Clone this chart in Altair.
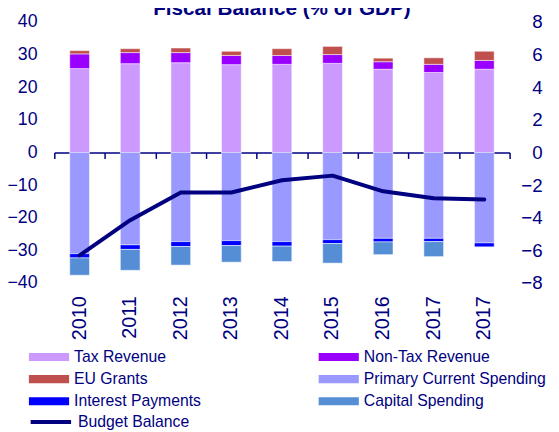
import altair as alt
import pandas as pd

years = ["2010", "2011", "2012", "2013", "2014", "2015", "2016", "2017", "2017"]
tax_revenue = [25.7, 27.2, 27.5, 26.9, 27.0, 27.3, 25.5, 24.5, 25.5]
non_tax_revenue = [4.5, 3.4, 3.1, 2.8, 2.7, 2.7, 2.3, 2.5, 2.7]
eu_grants = [1.0, 1.2, 1.4, 1.3, 2.1, 2.5, 1.1, 2.0, 2.9]
primary_current = [-31.0, -28.3, -27.3, -27.0, -27.3, -26.7, -26.3, -26.3, -27.7]
interest_payments = [-1.3, -1.4, -1.5, -1.5, -1.4, -1.2, -1.1, -1.0, -1.2]
capital_spending = [-5.3, -6.4, -5.7, -5.1, -4.7, -6.0, -3.9, -4.6, 0.0]
budget_balance = [-6.3, -4.15, -2.45, -2.45, -1.7, -1.42, -2.38, -2.8, -2.88]

series_names = ["Tax Revenue", "Non-Tax Revenue", "EU Grants",
                "Primary Current Spending", "Interest Payments", "Capital Spending"]
series_colors = ["#CC99FF", "#9900FF", "#C0504D", "#9999FF", "#0000FF", "#558ED5"]
series_values = [tax_revenue, non_tax_revenue, eu_grants,
                 primary_current, interest_payments, capital_spending]
# legend fills column by column: left column first, then right column
legend_order = ["Tax Revenue", "EU Grants", "Interest Payments",
                "Non-Tax Revenue", "Primary Current Spending", "Capital Spending"]
legend_colors = [series_colors[series_names.index(n)] for n in legend_order]

NAVY = "#000080"
FONT = "Liberation Sans"

rows = []
for i in range(len(years)):
    for k, (name, vals) in enumerate(zip(series_names, series_values)):
        rows.append({"idx": i, "series": name, "value": vals[i], "order": k})
bars_df = pd.DataFrame(rows)
line_df = pd.DataFrame({"idx": list(range(len(years))), "balance": budget_balance,
                        "series": ["Budget Balance"] * len(years)})

label_expr = "[" + ",".join("'%s'" % y for y in years) + "][datum.value]"
xscale = alt.Scale(paddingInner=0, paddingOuter=0)

bars = alt.Chart(bars_df).mark_bar(size=20, stroke="white", strokeOpacity=0.5, strokeWidth=1).encode(
    x=alt.X("idx:O", scale=xscale, axis=alt.Axis(
        orient="bottom", labelExpr=label_expr, labelAngle=270, labelFontSize=20,
        labelColor=NAVY, labelFont=FONT, labelPadding=13, ticks=False, domain=False,
        title=None, grid=False)),
    y=alt.Y("value:Q", stack="zero", scale=alt.Scale(domain=[-40, 40], nice=False),
            axis=alt.Axis(orient="left", values=list(range(-40, 41, 10)), labelFontSize=18,
                          labelColor=NAVY, labelFont=FONT, labelPadding=17.5, ticks=False,
                          domain=False, grid=False, title=None)),
    color=alt.Color("series:N", scale=alt.Scale(domain=legend_order, range=legend_colors),
                    legend=alt.Legend(
                        orient="none", legendX=-26, legendY=332, columns=2,
                        columnPadding=63, rowPadding=6.5, gridAlign="all",
                        symbolType="M-1,-0.2H1V0.2H-1Z", symbolSize=1681,
                        symbolStrokeWidth=0, symbolOpacity=1, clipHeight=16,
                        labelFontSize=16, labelColor=NAVY, labelFont=FONT, labelLimit=400,
                        labelOffset=5, title=None, padding=0)),
    order=alt.Order("order:Q"),
)

line = alt.Chart(line_df).mark_line(strokeWidth=4, strokeCap="round", strokeJoin="round").encode(
    x=alt.X("idx:O", scale=xscale, axis=alt.Axis(
        orient="bottom", offset=-132.5, labels=False, ticks=True, tickBand="extent",
        tickSize=6, tickColor=NAVY, tickWidth=1.5, domainColor=NAVY, domainWidth=1.5,
        title=None, grid=False)),
    y=alt.Y("balance:Q", scale=alt.Scale(domain=[-8, 8], nice=False),
            axis=alt.Axis(orient="right", values=list(range(-8, 9, 2)), labelFontSize=19,
                          labelColor=NAVY, labelFont=FONT, labelPadding=33, labelAlign="right",
                          ticks=False, domain=False, grid=False, title=None)),
    stroke=alt.Stroke("series:N", scale=alt.Scale(domain=["Budget Balance"], range=[NAVY]),
                      legend=alt.Legend(
                          orient="none", legendX=-26, legendY=398,
                          symbolType="stroke", symbolSize=1681, symbolStrokeWidth=4,
                          clipHeight=16, labelFontSize=16, labelColor=NAVY, labelFont=FONT,
                          labelOffset=5, title=None, padding=0)),
)

chart = alt.layer(bars, line).resolve_scale(
    y="independent", color="independent", stroke="independent"
).resolve_axis(x="independent", y="independent").resolve_legend(
    color="independent", stroke="independent"
).properties(
    width=462, height=265,
    title=alt.TitleParams("Fiscal Balance (% of GDP)", fontSize=21, fontWeight="bold",
                          color=NAVY, font=FONT, anchor="middle", offset=-6),
    autosize=alt.AutoSizeParams(type="none"),
    padding={"left": 47, "top": 11, "right": 42, "bottom": 146},
).configure_view(stroke=None)

chart.save("out.html", embed_options={"renderer": "svg", "actions": False})
